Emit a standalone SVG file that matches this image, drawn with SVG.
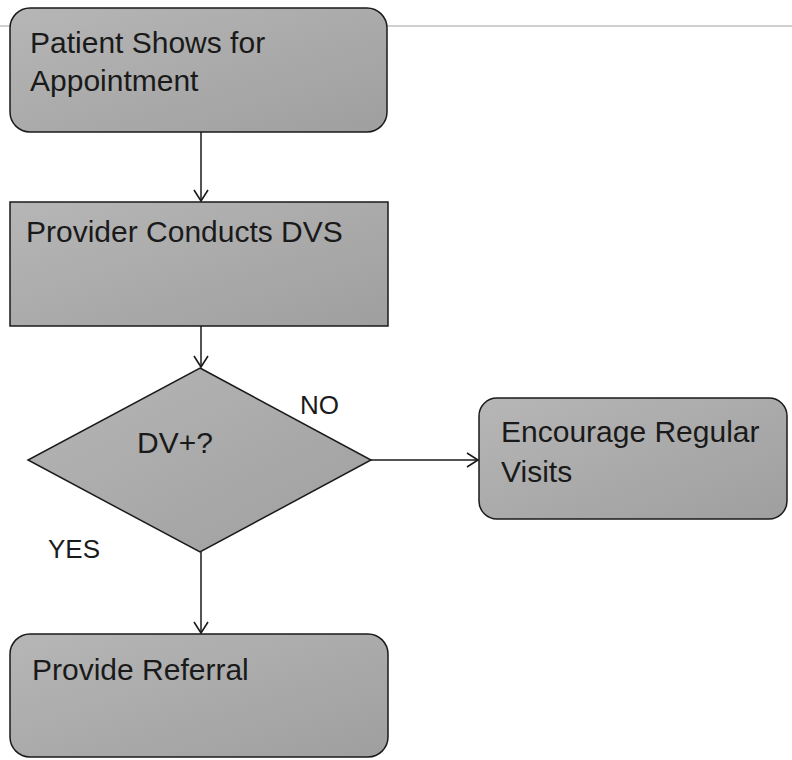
<svg xmlns="http://www.w3.org/2000/svg" width="792" height="760" viewBox="0 0 792 760">
  <style>
    .node { stroke: #1a1a1a; stroke-width: 1.5; fill: url(#shade); }
    .label { font-family: "Liberation Sans", Arial, Helvetica, sans-serif; font-size: 30px; fill: #1a1a1a; }
    .tag { font-family: "Liberation Sans", Arial, Helvetica, sans-serif; font-size: 26px; fill: #1a1a1a; }
    .edge { stroke: #1a1a1a; stroke-width: 1.5; fill: none; marker-end: url(#arrow); }
  </style>
  <defs>
    <linearGradient id="shade" x1="0" y1="0" x2="1" y2="1">
      <stop offset="0" stop-color="#b6b6b6"/>
      <stop offset="1" stop-color="#9f9f9f"/>
    </linearGradient>
    <marker id="arrow" markerUnits="userSpaceOnUse" markerWidth="16" markerHeight="18" refX="12" refY="8" orient="auto">
      <path d="M1,1 L12,8 L1,15" fill="none" stroke="#1a1a1a" stroke-width="1.6"/>
    </marker>
  </defs>

  <!-- page rule -->
  <line x1="0" y1="26" x2="792" y2="26" stroke="#a0a0a0" stroke-width="1"/>

  <g id="connectors">
    <line class="edge" x1="201" y1="132" x2="201" y2="201"/>
    <line class="edge" x1="201" y1="326" x2="201" y2="367"/>
    <line class="edge" x1="371" y1="460" x2="478" y2="460"/>
    <line class="edge" x1="201" y1="552" x2="201" y2="633"/>
  </g>

  <g id="patient-shows">
    <rect class="node" x="10" y="8" width="377" height="124" rx="20" ry="20"/>
    <text class="label" x="30" y="53">Patient Shows for</text>
    <text class="label" x="30" y="91">Appointment</text>
  </g>

  <g id="provider-conducts">
    <rect class="node" x="10" y="202" width="378" height="124"/>
    <text class="label" x="26" y="242">Provider Conducts DVS</text>
  </g>

  <g id="decision">
    <polygon class="node" points="200,368 371,460 200,552 28,460"/>
    <text class="label" x="137" y="453">DV+?</text>
  </g>

  <g id="encourage-visits">
    <rect class="node" x="479" y="398" width="308" height="121" rx="18" ry="18"/>
    <text class="label" x="501" y="442">Encourage Regular</text>
    <text class="label" x="501" y="482">Visits</text>
  </g>

  <g id="provide-referral">
    <rect class="node" x="10" y="634" width="378" height="123" rx="20" ry="20"/>
    <text class="label" x="32" y="680">Provide Referral</text>
  </g>

  <g id="branch-labels">
    <text class="tag" x="300" y="414">NO</text>
    <text class="tag" x="48" y="558">YES</text>
  </g>
</svg>
